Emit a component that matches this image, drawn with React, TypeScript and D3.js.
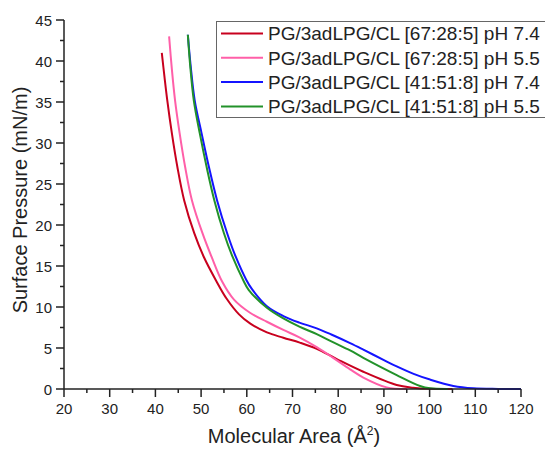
import React from "react";
import * as d3 from "d3";

const seriesNames = [
  "PG/3adLPG/CL [67:28:5] pH 7.4",
  "PG/3adLPG/CL [67:28:5] pH 5.5",
  "PG/3adLPG/CL [41:51:8] pH 7.4",
  "PG/3adLPG/CL [41:51:8] pH 5.5",
];
const seriesColors = ["#c8001e", "#ff5fa8", "#1414ff", "#22922a"];

const red74: [number, number][] = [
  [41.4, 41.0], [42.0, 38.0], [42.6, 35.2], [43.6, 31.2], [44.8, 27.1], [46.3, 23.0],
  [48.5, 19.0], [50.6, 16.1], [53.2, 13.3], [55.6, 11.0], [58.3, 9.1], [60.7, 8.0],
  [64.4, 6.9], [68.0, 6.25], [71.6, 5.65], [75.3, 4.9], [79.7, 3.65], [85.5, 2.1],
  [92.8, 0.49], [96.4, 0.16], [100, 0.02], [105, 0],
];
const pink55: [number, number][] = [
  [43.0, 43.0], [43.6, 39.0], [44.3, 35.2], [45.3, 31.2], [46.5, 27.1], [48.0, 23.0],
  [50.3, 19.0], [52.3, 16.1], [54.6, 13.1], [57.2, 10.9], [60.7, 9.3], [64.4, 8.2],
  [68.0, 7.2], [71.5, 6.3], [75.3, 5.1], [78.9, 3.8], [82.6, 2.4], [85.5, 1.4],
  [90.6, 0.2], [95, 0],
];
const blue74: [number, number][] = [
  [47.1, 43.2], [47.7, 39.5], [48.6, 35.2], [50.1, 31.2], [51.7, 27.1], [53.5, 23.0],
  [55.7, 19.0], [57.6, 16.1], [59.9, 13.3], [61.1, 12.2], [64.4, 10.1], [68.0, 8.9],
  [71.5, 8.1], [75.3, 7.4], [78.5, 6.65], [82.6, 5.6], [85.5, 4.8], [89.9, 3.55],
  [92.8, 2.75], [96.5, 1.85], [100.1, 1.15], [105.2, 0.37], [109.6, 0.08], [115, 0.01],
  [120, 0],
];
const green55: [number, number][] = [
  [47.1, 43.2], [47.6, 39.5], [48.4, 35.2], [49.7, 31.2], [51.2, 27.1], [52.9, 23.0],
  [55.0, 19.0], [56.9, 16.1], [59.2, 13.3], [60.4, 12.1], [64.4, 9.9], [68.0, 8.6],
  [71.5, 7.6], [75.3, 6.7], [78.5, 5.8], [82.6, 4.7], [85.5, 3.8], [92.8, 1.7],
  [97.9, 0.37], [100.1, 0.08], [104, 0],
];
const allSeries = [red74, pink55, blue74, green55];

const xTicks = [20, 30, 40, 50, 60, 70, 80, 90, 100, 110, 120];
const xMinorTicks = [25, 35, 45, 55, 65, 75, 85, 95, 105, 115];
const yTicks = [0, 5, 10, 15, 20, 25, 30, 35, 40, 45];
const yMinorTicks = [2.5, 7.5, 12.5, 17.5, 22.5, 27.5, 32.5, 37.5, 42.5];

const FONT = "'Liberation Sans', Arial, sans-serif";

export default function App() {
  const W = 545, H = 450;
  const x = d3.scaleLinear().domain([20, 120]).range([64, 521]);
  const y = d3.scaleLinear().domain([0, 45]).range([389, 20]);
  const line = d3
    .line<[number, number]>()
    .x((d) => x(d[0]))
    .y((d) => y(d[1]))
    .curve(d3.curveCatmullRom.alpha(0.5));
  const axisColor = "#222";
  return (
    <svg
      width={W}
      height={H}
      style={{ position: "absolute", left: 0, top: 0, background: "#fff" }}
      fontFamily={FONT}
    >
      <rect x={0} y={0} width={W} height={H} fill="#fff" />
      {allSeries.map((s, i) => (
        <path
          key={i}
          d={line(s) || ""}
          fill="none"
          stroke={seriesColors[i]}
          strokeWidth={2}
          strokeLinejoin="round"
        />
      ))}
      <line x1={x(20)} x2={x(120)} y1={y(0)} y2={y(0)} stroke={axisColor} strokeWidth={1.5} />
      {xTicks.map((t) => (
        <g key={"xt" + t}>
          <line x1={x(t)} x2={x(t)} y1={y(0)} y2={y(0) + 8} stroke={axisColor} strokeWidth={1.5} />
          <text x={x(t)} y={414} textAnchor="middle" fontSize={15} fill="#222">
            {t}
          </text>
        </g>
      ))}
      {xMinorTicks.map((t) => (
        <line key={"xm" + t} x1={x(t)} x2={x(t)} y1={y(0)} y2={y(0) + 4} stroke={axisColor} strokeWidth={1.5} />
      ))}
      <line x1={x(20)} x2={x(20)} y1={y(0)} y2={y(45)} stroke={axisColor} strokeWidth={1.5} />
      {yTicks.map((t) => (
        <g key={"yt" + t}>
          <line x1={x(20) - 8} x2={x(20)} y1={y(t)} y2={y(t)} stroke={axisColor} strokeWidth={1.5} />
          <text x={52} y={y(t) + 5.5} textAnchor="end" fontSize={15} fill="#222">
            {t}
          </text>
        </g>
      ))}
      {yMinorTicks.map((t) => (
        <line key={"ym" + t} x1={x(20) - 4} x2={x(20)} y1={y(t)} y2={y(t)} stroke={axisColor} strokeWidth={1.5} />
      ))}
      <text x={294} y={443} textAnchor="middle" fontSize={20} fill="#222">
        Molecular Area (Å
        <tspan dy={-8} fontSize={12}>2</tspan>
        <tspan dy={8}>)</tspan>
      </text>
      <text
        transform={`translate(27,200) rotate(-90)`}
        textAnchor="middle"
        fontSize={20}
        fill="#222"
      >
        Surface Pressure (mN/m)
      </text>
      <rect x={216.5} y={21.5} width={340} height={96} fill="#fff" stroke="#666" strokeWidth={1} />
      {seriesNames.map((n, i) => {
        const cy = 33.5 + i * 24.3;
        return (
          <g key={"lg" + i}>
            <line x1={221} x2={263} y1={cy} y2={cy} stroke={seriesColors[i]} strokeWidth={2} />
            <text x={268} y={cy + 6.8} fontSize={19} fill="#222">
              {n}
            </text>
          </g>
        );
      })}
    </svg>
  );
}
